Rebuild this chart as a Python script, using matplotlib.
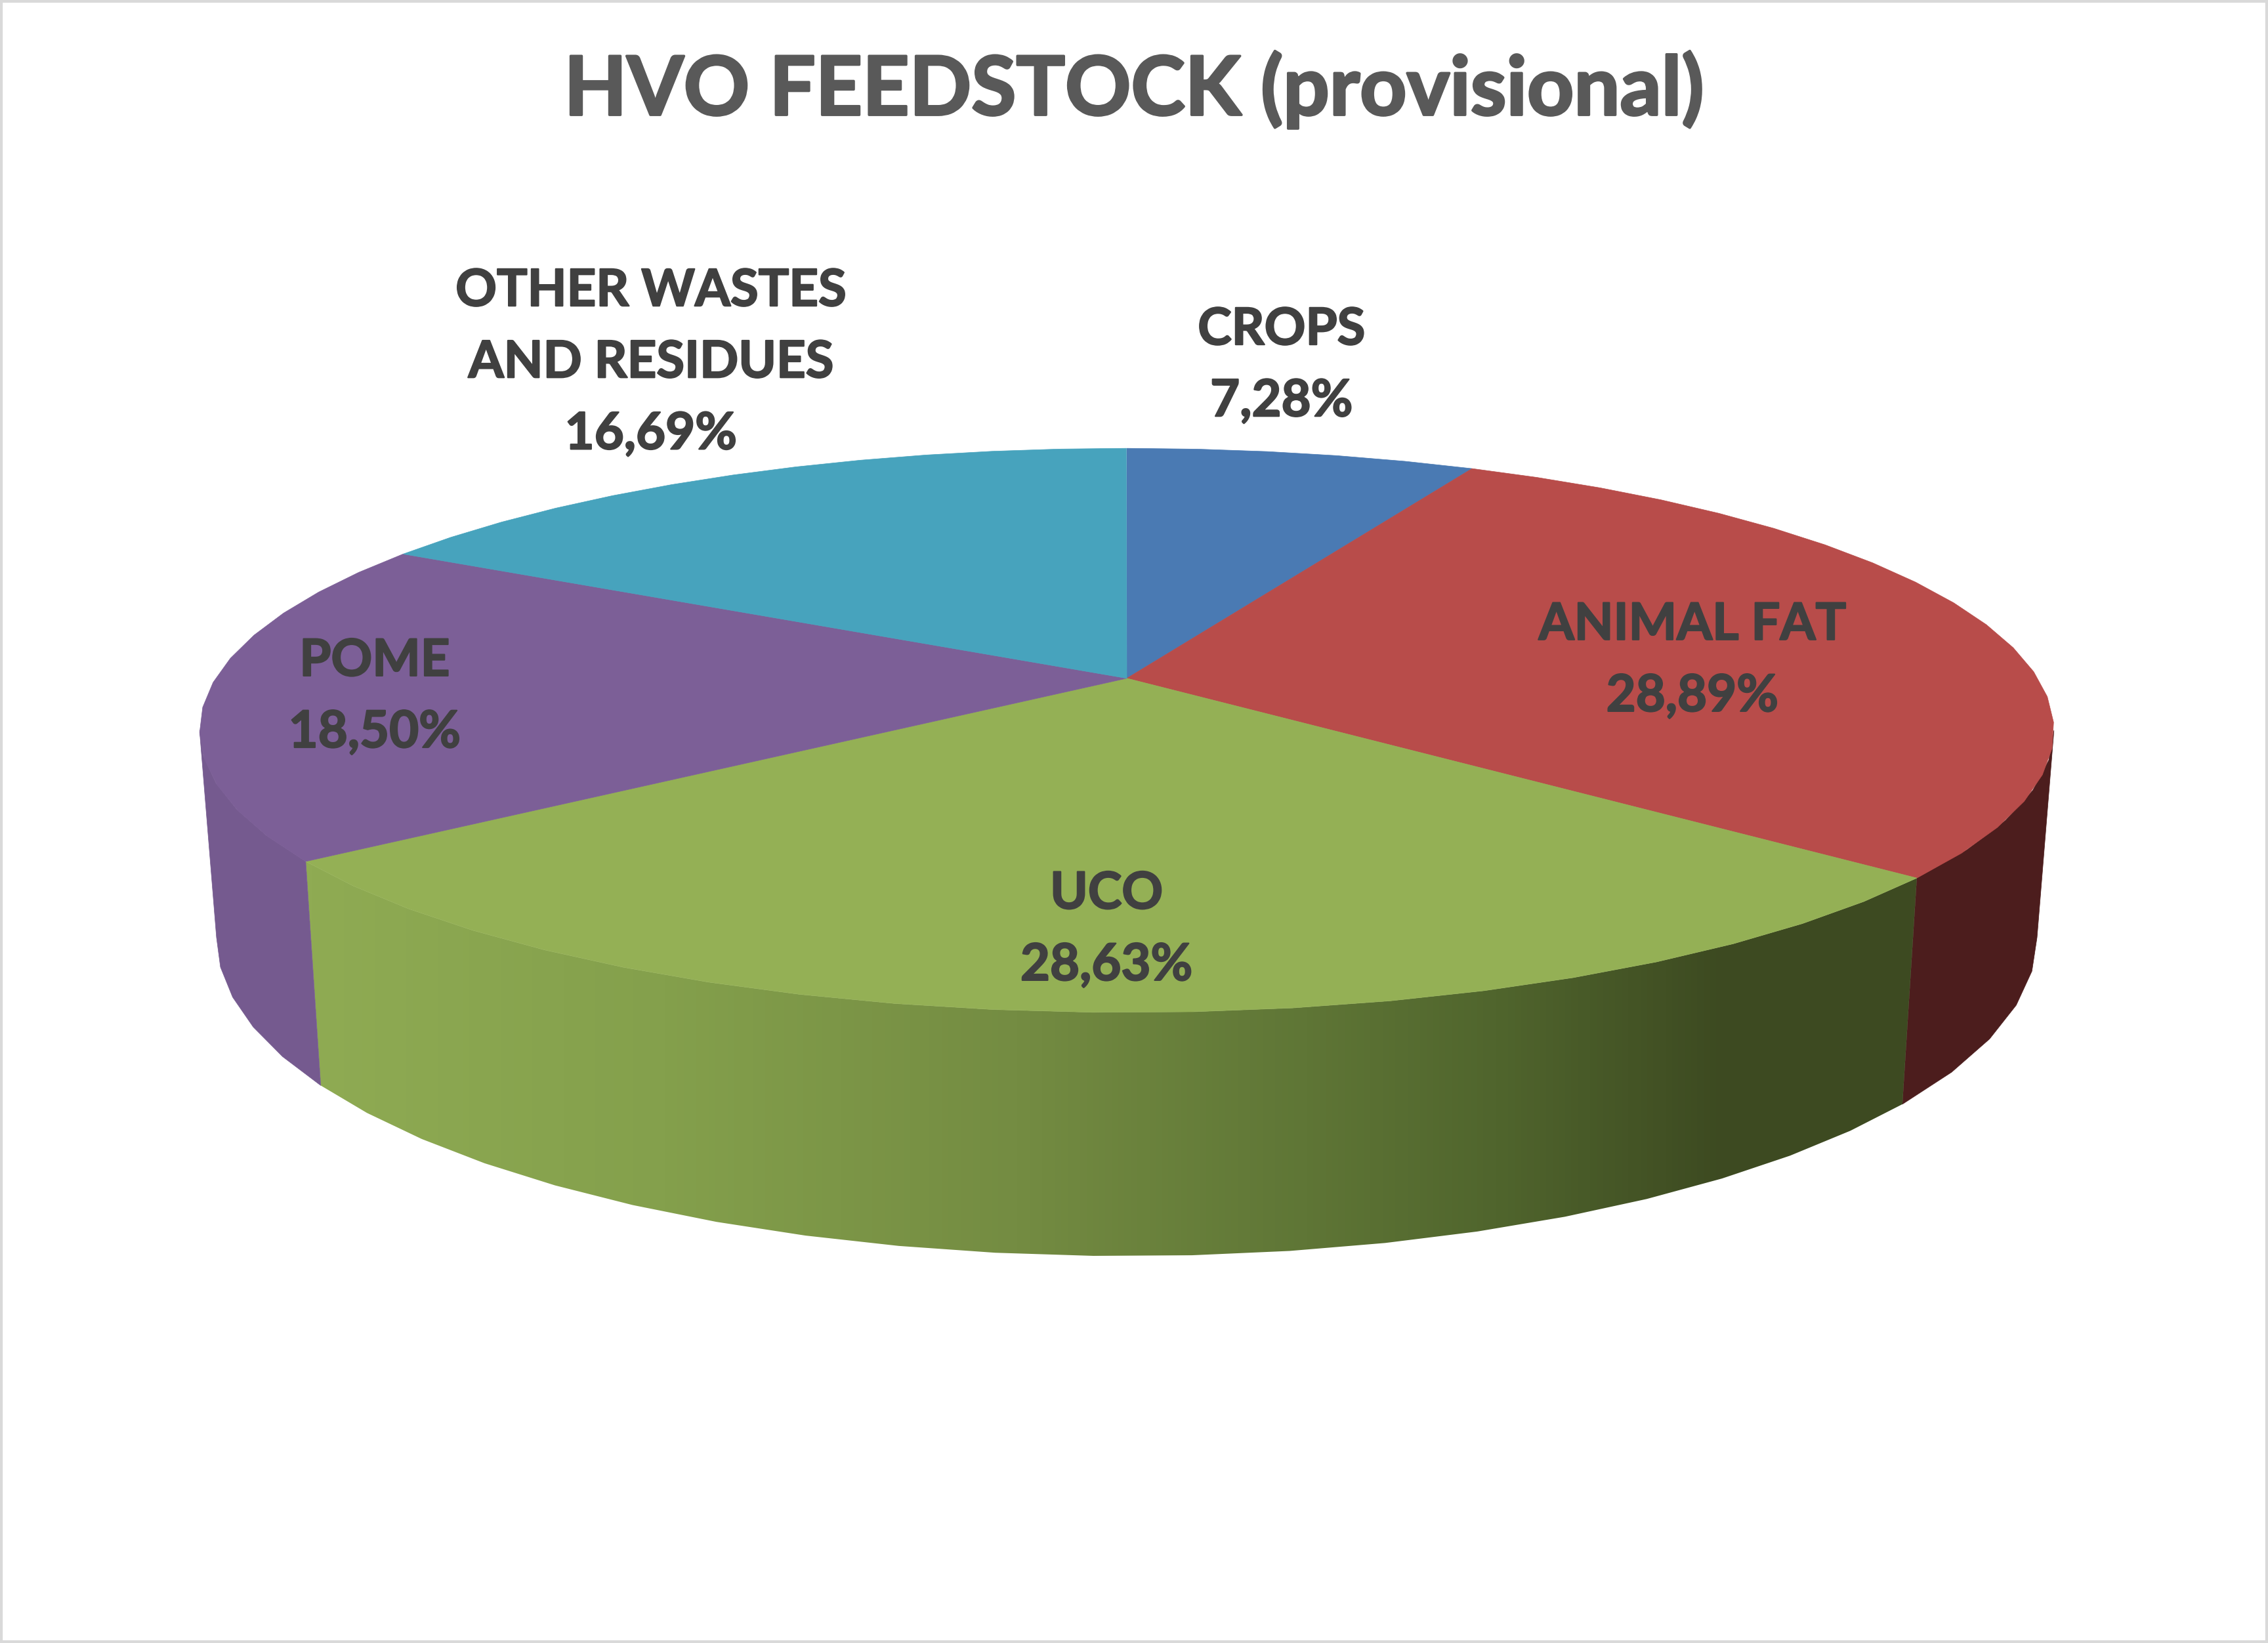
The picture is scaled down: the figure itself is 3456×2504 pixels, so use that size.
# HVO feedstock shares drawn as a tilted 3D pie
import numpy as np
import matplotlib
matplotlib.use("Agg")
import matplotlib.pyplot as plt
import matplotlib.patheffects as pe
from matplotlib.colors import LinearSegmentedColormap
from matplotlib.patches import Polygon, Rectangle

# === Data ===
labels = ["CROPS", "ANIMAL FAT", "UCO", "POME", "OTHER WASTES\nAND RESIDUES"]
shares = [7.28, 28.89, 28.63, 18.50, 16.69]
value_text = ["7,28%", "28,89%", "28,63%", "18,50%", "16,69%"]

# === Styles ===
top_colors = ["#4A7AB3", "#B84C4A", "#94B055", "#7C5F97", "#47A3BD"]
wall_colors = ["#3A5F8A", "#4C1D1D", None, "#755A8F", "#37809A"]
label_x = [886, 1170, 765, 259, 450]
label_y = [253, 457, 643, 482, 251]

# width and height of the canvas in reference units, same ratio as the output
W, H = 1568, 1136
CX = 779
FACET = 5.0   # the original edge is visibly faceted


def project(theta, d, c, y0, k=0.1846):
    # perspective view of a circle, theta clockwise from the back of the pie
    u, v = np.sin(theta), np.cos(theta)
    den = 1 + k * v
    return CX + d * u / den, y0 - c * v / den


def top(theta):
    return project(theta, 630.0, 188.4, 469.0)


def bottom(theta):
    return project(theta, 618.5, 212.8, 607.5)


def arc(a, b):
    n = max(int(np.degrees(b - a) / FACET), 1)
    return np.linspace(a, b, n + 1)


fig = plt.figure(figsize=(34.56, 25.04), dpi=100, facecolor="white")
ax = fig.add_axes([0, 0, 1, 1])
ax.set_xlim(0, W)
ax.set_ylim(H, 0)
ax.axis("off")

plt.rcParams["font.family"] = ["Lato", "DejaVu Sans"]

# slice limits in radians
edges = np.radians(np.concatenate([[0], np.cumsum(shares)]) * 3.6)
vis_a = np.arccos(-0.1846)
vis_b = 2 * np.pi - vis_a

# side walls, only the part facing the viewer
green_cmap = LinearSegmentedColormap.from_list(
    "green_wall",
    [(0.0, "#8FAB53"), (0.22, "#84A04C"), (0.44, "#748C42"), (0.62, "#5F7636"),
     (0.74, "#50652D"), (0.88, "#3D4A21"), (1.0, "#3E4A21")])

for i in range(len(shares)):
    a = max(edges[i], vis_a)
    b = min(edges[i + 1], vis_b)
    if b <= a:
        continue
    t = arc(a, b)
    xt, yt = top(t)
    xb, yb = bottom(t)
    xs = np.concatenate([xt, xb[::-1]])
    ys = np.concatenate([yt, yb[::-1]])
    if wall_colors[i] is not None:
        ax.fill(xs, ys, color=wall_colors[i], lw=0.5, zorder=2)
    else:
        # the big UCO wall runs from light to dark, left to right
        poly = Polygon(np.column_stack([xs, ys]), closed=True, transform=ax.transData,
                       fc="none", ec="none")
        ax.add_patch(poly)
        grad = np.linspace(0, 1, 512).reshape(1, -1)
        im = ax.imshow(grad, cmap=green_cmap, aspect="auto", zorder=2,
                       extent=[xs.min(), xs.max(), ys.max(), ys.min()],
                       vmin=0, vmax=1)
        im.set_clip_path(poly)

ax.set_xlim(0, W)
ax.set_ylim(H, 0)

# top faces
for i in range(len(shares)):
    t = arc(edges[i], edges[i + 1])
    xt, yt = top(t)
    xs = np.concatenate([[CX], xt])
    ys = np.concatenate([[469.0], yt])
    ax.fill(xs, ys, color=top_colors[i], lw=0.5, zorder=3)

# labels, a thin stroke brings Lato Bold up to the heavier weight of the original
for i in range(len(shares)):
    ax.text(label_x[i], label_y[i], labels[i] + "\n" + value_text[i], ha="center", va="center",
            fontsize=56, fontweight="bold", color="#404040", linespacing=1.64, zorder=5,
            path_effects=[pe.withStroke(linewidth=1.6, foreground="#404040")])

ax.text(784, 62, "HVO FEEDSTOCK (provisional)", ha="center", va="center",
        fontsize=89.5, fontweight="bold", color="#595959", zorder=5,
        path_effects=[pe.withStroke(linewidth=2.6, foreground="#595959")])

# thin chart border
ax.add_patch(Rectangle((0, 0), 1, 1, transform=ax.transAxes, fc="none", ec="#D9D9D9",
                       lw=6, zorder=6, clip_on=True))

fig.savefig("out.png", dpi=100, facecolor="white")
